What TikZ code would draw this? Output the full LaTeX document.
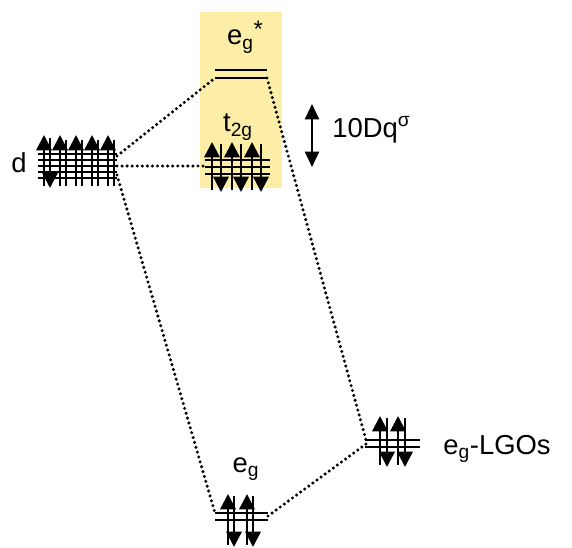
\documentclass[tikz,border=0pt]{standalone}
\usepackage{fontspec}
\setmainfont{Liberation Sans}
\usetikzlibrary{arrows.meta}
\definecolor{boxyellow}{RGB}{252,238,166}
\tikzset{
  orb/.style={line width=1.8pt},
  spinup/.style={line width=1.7pt,-{Triangle[length=11pt,width=11pt]}},
  spinbar/.style={line width=1.7pt},
  link/.style={line width=2.4pt,dash pattern=on 0pt off 3.6pt,line cap=round},
  lbl/.style={font=\fontsize{19.5}{23}\selectfont,inner sep=0pt},
}
\begin{document}
\begin{tikzpicture}[x=0.025cm,y=-0.025cm]
\useasboundingbox (0,0) rectangle (572,547);
\fill[boxyellow] (200,12) rectangle (282,188);
% d level
\draw[orb] (38,154) -- (117,154);
\draw[orb] (38,160) -- (117,160);
\draw[orb] (38,166) -- (117,166);
\draw[orb] (38,172) -- (117,172);
\draw[orb] (38,178) -- (117,178);
\draw[spinup] (44,186) -- (44,135);
\draw[spinup] (60,186) -- (60,135);
\draw[spinup] (76,186) -- (76,135);
\draw[spinup] (92,186) -- (92,135);
\draw[spinup] (108,186) -- (108,135);
\draw[spinup] (50,138) -- (50,188);
\draw[spinbar] (66,140) -- (66,186);
\draw[spinbar] (82,140) -- (82,186);
\draw[spinbar] (98,140) -- (98,186);
\draw[spinbar] (114,140) -- (114,186);
\coordinate (dtop) at (117,156);
\coordinate (dmid) at (117,166);
\coordinate (dbot) at (117,175);
\node[lbl] (dlbl) at (19,163) {d};
% eg* level
\draw[orb] (215,70) -- (267,70);
\draw[orb] (215,78) -- (267,78);
\coordinate (estarL) at (215,78);
\coordinate (estarR) at (267,78);
\node[lbl] (estarlbl) at (245,37) {e\textsubscript{g}{\fontsize{17}{17}\selectfont\raisebox{0.6ex}{*}}};
% t2g level
\draw[orb] (205,160) -- (270,160);
\draw[orb] (205,167) -- (270,167);
\draw[orb] (205,174) -- (270,174);
\draw[spinup] (212,190) -- (212,142);
\draw[spinup] (232,190) -- (232,142);
\draw[spinup] (252,190) -- (252,142);
\draw[spinup] (221,144) -- (221,192);
\draw[spinup] (241,144) -- (241,192);
\draw[spinup] (261,144) -- (261,192);
\coordinate (tL) at (205,166);
\node[lbl] (tlbl) at (238,127) {t\textsubscript{2g}};
% splitting
\coordinate (splitA) at (312,104);
\coordinate (splitB) at (312,167);
\draw[line width=1.7pt,{Triangle[length=11pt,width=10pt]}-{Triangle[length=11pt,width=10pt]}] (splitA) -- (splitB);
\node[lbl,anchor=west] (dqlbl) at (332,130) {10Dq\textsuperscript{σ}};
% eg-LGOs level
\draw[orb] (365,440) -- (420,440);
\draw[orb] (365,447) -- (420,447);
\draw[spinup] (380,465) -- (380,416);
\draw[spinup] (398,465) -- (398,416);
\draw[spinup] (387,418) -- (387,467);
\draw[spinup] (405,418) -- (405,467);
\coordinate (lgoT) at (366,440);
\coordinate (lgoB) at (366,444);
\node[lbl,anchor=west] (lgolbl) at (443,449) {e\textsubscript{g}-LGOs};
% eg level
\draw[orb] (215,513) -- (268,513);
\draw[orb] (215,520) -- (268,520);
\draw[spinup] (228,545) -- (228,494);
\draw[spinup] (247,545) -- (247,494);
\draw[spinup] (234,496) -- (234,547);
\draw[spinup] (253,496) -- (253,547);
\coordinate (egL) at (215,513);
\coordinate (egR) at (268,516);
\node[lbl] (eglbl) at (246,469) {e\textsubscript{g}};
% correlations
\draw[link] (dtop) -- (estarL);
\draw[link] (dmid) -- (tL);
\draw[link] (dbot) -- (egL);
\draw[link] (estarR) -- (lgoT);
\draw[link] (egR) -- (lgoB);
\end{tikzpicture}
\end{document}
